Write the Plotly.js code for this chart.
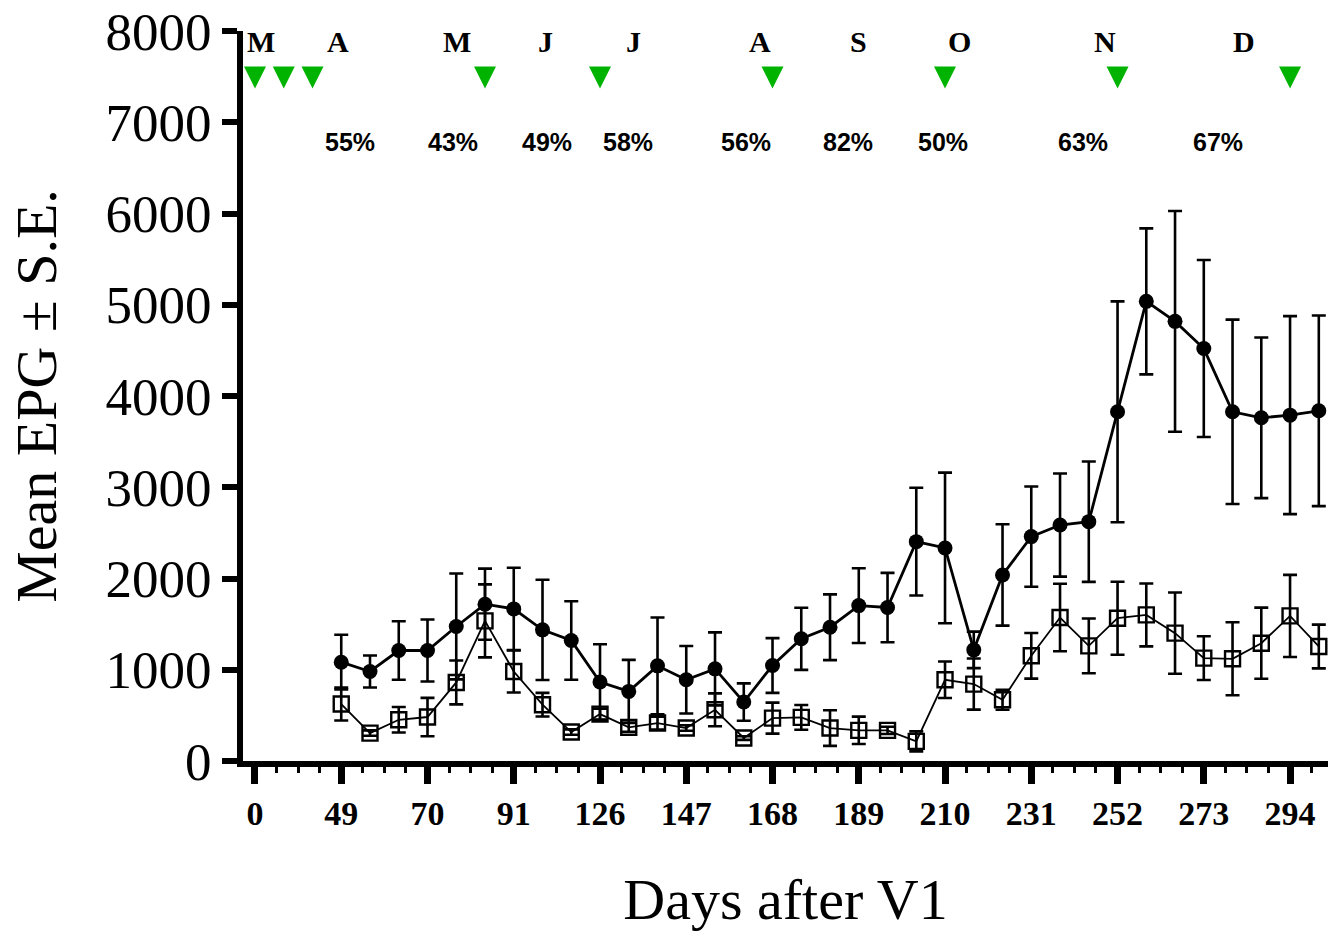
<!DOCTYPE html>
<html>
<head>
<meta charset="utf-8">
<script src="https://cdn.plot.ly/plotly-3.0.1.min.js"></script>
<style>
html,body{margin:0;padding:0;background:#ffffff;}
#chart{width:1328px;height:932px;}
</style>
</head>
<body>
<div id="chart"></div>
<script>
// sampling position along the (broken) time axis
const sampleIdx = [3,4,5,6,7,8,9,10,11,12,13,14,15,16,17,18,19,20,21,22,23,24,25,26,27,28,29,30,31,32,33,34,35,36,37];

// filled circles: mean EPG and S.E.
const meanControl = [1083,981,1211,1211,1474,1718,1667,1437,1321,865,763,1043,890,1010,646,1047,1339,1466,1703,1682,2404,2335,1218,2039,2459,2586,2623,3827,5037,4818,4520,3827,3761,3790,3838];
const seControl   = [300,175,320,340,580,390,450,550,430,415,345,530,370,400,205,300,340,360,410,380,590,825,200,555,550,565,660,1210,800,1210,970,1010,880,1085,1045];

// open squares: mean EPG and S.E.
const meanTreated = [624,306,452,482,861,1536,981,617,317,514,369,416,361,561,252,470,478,361,336,336,215,890,843,671,1153,1572,1262,1565,1601,1401,1127,1120,1291,1590,1255];
const seTreated   = [180,30,140,210,240,400,230,130,30,60,50,70,30,180,20,170,135,195,150,40,110,200,280,110,250,370,300,400,345,445,240,400,390,450,240];

// treatment (vaccination) events, green triangles
const treatIdx = [0,1,2,8,12,18,24,30,36];
const treatLevel = [7370,7370,7370,7370,7370,7370,7370,7370,7370];

// x tick labels (days after V1)
const tickIdx = [0,3,6,9,12,15,18,21,24,27,30,33,36];
const tickDays = ['0','49','70','91','126','147','168','189','210','231','252','273','294'];

// month letters and efficacy percentages (positions in axis units)
const monthLetters = ['M','A','M','J','J','A','S','O','N','D'];
const monthPos = [0.22,2.87,7.03,10.11,13.17,17.57,20.99,24.51,29.56,34.40];
const monthLevel = 7885;
const efficacyText = ['55%','43%','49%','58%','56%','82%','50%','63%','67%'];
const efficacyPos = [3.30,6.87,10.17,12.97,17.08,20.63,23.92,28.79,33.48];
const efficacyLevel = 6785;

const traces = [
  {
    x: sampleIdx, y: meanControl, type: 'scatter', mode: 'lines+markers',
    line: {color: '#000000', width: 2.8},
    marker: {symbol: 'circle', size: 15, color: '#000000'},
    error_y: {type: 'data', array: seControl, visible: true, color: '#000000', thickness: 2.6, width: 7}
  },
  {
    x: sampleIdx, y: meanTreated, type: 'scatter', mode: 'lines+markers',
    line: {color: '#000000', width: 1.8},
    marker: {symbol: 'square-open', size: 15, color: '#000000', line: {width: 2.4, color: '#000000'}},
    error_y: {type: 'data', array: seTreated, visible: true, color: '#000000', thickness: 2.6, width: 7}
  },
  {
    x: treatIdx, y: treatLevel, type: 'scatter', mode: 'markers',
    marker: {symbol: 'arrow-down', size: 22, color: '#00b300', line: {width: 0}},
    cliponaxis: false
  }
];

const annotations = [];
monthLetters.forEach((t, i) => {
  annotations.push({
    x: monthPos[i], y: monthLevel, xref: 'x', yref: 'y', text: t, showarrow: false,
    xanchor: 'center', yanchor: 'middle',
    font: {family: 'Liberation Serif, Times New Roman, serif', size: 30, color: '#000000', weight: 'bold'}
  });
});
efficacyText.forEach((t, i) => {
  annotations.push({
    x: efficacyPos[i], y: efficacyLevel, xref: 'x', yref: 'y', text: t, showarrow: false,
    xanchor: 'center', yanchor: 'middle',
    font: {family: 'Liberation Sans, Arial, sans-serif', size: 25, color: '#000000', weight: 'bold'}
  });
});

const layout = {
  width: 1328, height: 932,
  margin: {l: 243, r: 0, t: 31, b: 171, pad: 0},
  paper_bgcolor: '#ffffff', plot_bgcolor: '#ffffff',
  showlegend: false,
  xaxis: {
    range: [-0.417, 37.32],
    showgrid: false, zeroline: false,
    showline: true, linecolor: '#000000', linewidth: 6,
    ticks: 'outside', ticklen: 17, tickwidth: 7, tickcolor: '#000000',
    tickmode: 'array', tickvals: tickIdx, ticktext: tickDays,
    tickfont: {family: 'Liberation Serif, Times New Roman, serif', size: 34, color: '#000000', weight: 'bold'},
    ticklabelstandoff: 0,
    minor: {dtick: 0.75, tick0: 0, ticks: 'outside', ticklen: 6, tickwidth: 3, tickcolor: '#000000', showgrid: false},
    title: {text: 'Days after V1', font: {family: 'Liberation Serif, Times New Roman, serif', size: 58, color: '#000000'}, standoff: 55}
  },
  yaxis: {
    range: [0, 8000],
    showgrid: false, zeroline: false,
    showline: true, linecolor: '#000000', linewidth: 6,
    ticks: 'outside', ticklen: 15, tickwidth: 6, tickcolor: '#000000',
    tickvals: [0,1000,2000,3000,4000,5000,6000,7000,8000],
    ticktext: ['0','1000','2000','3000','4000','5000','6000','7000','8000'],
    tickfont: {family: 'Liberation Serif, Times New Roman, serif', size: 53, color: '#000000'},
    ticklabelstandoff: 0,
    title: {text: 'Mean EPG ± S.E.', font: {family: 'Liberation Serif, Times New Roman, serif', size: 58, color: '#000000'}, standoff: 32}
  },
  annotations: annotations
};

Plotly.newPlot('chart', traces, layout, {displayModeBar: false, staticPlot: true});
</script>
</body>
</html>
